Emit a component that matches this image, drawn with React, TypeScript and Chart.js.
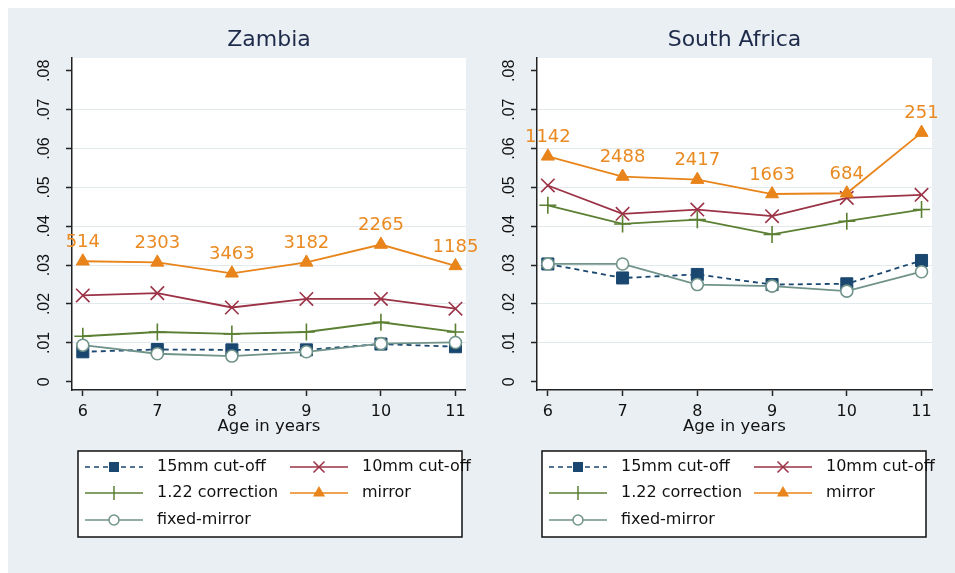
import React, { useEffect, useRef } from "react";
import { Chart, registerables } from "chart.js";

Chart.register(...registerables);

// ---------- data ----------
const ages = [6, 7, 8, 9, 10, 11];
const xTicks = [6, 7, 8, 9, 10, 11];
const yTicks = [0, 0.01, 0.02, 0.03, 0.04, 0.05, 0.06, 0.07, 0.08];
const yTickLabels = ["0", ".01", ".02", ".03", ".04", ".05", ".06", ".07", ".08"];
const seriesNames = ["15mm cut-off", "10mm cut-off", "1.22 correction", "mirror", "fixed-mirror"];
const xTitle = "Age in years";

const zambia15mm = [0.0077, 0.0083, 0.0082, 0.0082, 0.0097, 0.009];
const zambia10mm = [0.0222, 0.0228, 0.0191, 0.0213, 0.0213, 0.0188];
const zambia122 = [0.0117, 0.0128, 0.0123, 0.0128, 0.0153, 0.0128];
const zambiaMirror = [0.031, 0.0307, 0.0279, 0.0307, 0.0353, 0.0298];
const zambiaFixed = [0.0094, 0.0072, 0.0066, 0.0077, 0.0098, 0.0101];
const zambiaN = ["514", "2303", "3463", "3182", "2265", "1185"];

const sa15mm = [0.0303, 0.0267, 0.0276, 0.025, 0.0252, 0.0312];
const sa10mm = [0.0505, 0.0432, 0.0443, 0.0426, 0.0473, 0.0481];
const sa122 = [0.0454, 0.0406, 0.0417, 0.0379, 0.0413, 0.0443];
const saMirror = [0.058, 0.0528, 0.052, 0.0483, 0.0485, 0.0641];
const saFixed = [0.0303, 0.0303, 0.025, 0.0246, 0.0233, 0.0283];
const saN = ["1142", "2488", "2417", "1663", "684", "251"];

// ---------- styles ----------
type Kind = "square" | "x" | "plus" | "triangle" | "circle";
const STYLES: { color: string; kind: Kind; dash: number[] }[] = [
  { color: "#1a476f", kind: "square", dash: [5, 4] },
  { color: "#9b3246", kind: "x", dash: [] },
  { color: "#5b7f33", kind: "plus", dash: [] },
  { color: "#e8841a", kind: "triangle", dash: [] },
  { color: "#70938a", kind: "circle", dash: [] },
];
const ORANGE = "#ea8a22";
const BG = "#eaeff3";
const CANVAS_H = 565;
const LINE_W = 1.8;

function pointOpts(i: number) {
  const c = STYLES[i].color;
  switch (STYLES[i].kind) {
    case "square":
      return { pointStyle: "rect", pointRadius: 8.5, pointBackgroundColor: c, pointBorderColor: c, pointBorderWidth: 1 };
    case "x":
      return { pointStyle: "crossRot", pointRadius: 9.5, pointBackgroundColor: c, pointBorderColor: c, pointBorderWidth: 1.6 };
    case "plus":
      return { pointStyle: "cross", pointRadius: 8.5, pointBackgroundColor: c, pointBorderColor: c, pointBorderWidth: 1.6 };
    case "triangle":
      return { pointStyle: "triangle", pointRadius: 7.5, pointBackgroundColor: c, pointBorderColor: c, pointBorderWidth: 1 };
    default:
      return { pointStyle: "circle", pointRadius: 6, pointBackgroundColor: "#ffffff", pointBorderColor: c, pointBorderWidth: 1.6 };
  }
}

function drawMarker(ctx: CanvasRenderingContext2D, kind: Kind, x: number, y: number, color: string) {
  ctx.save();
  ctx.setLineDash([]);
  ctx.strokeStyle = color;
  ctx.fillStyle = color;
  ctx.lineWidth = 1.5;
  ctx.beginPath();
  if (kind === "square") {
    ctx.fillRect(x - 5, y - 5, 10, 10);
  } else if (kind === "x") {
    const s = 5.5;
    ctx.moveTo(x - s, y - s);
    ctx.lineTo(x + s, y + s);
    ctx.moveTo(x + s, y - s);
    ctx.lineTo(x - s, y + s);
    ctx.stroke();
  } else if (kind === "plus") {
    const s = 7;
    ctx.moveTo(x, y - s);
    ctx.lineTo(x, y + s);
    ctx.stroke();
  } else if (kind === "triangle") {
    const r = 7;
    ctx.moveTo(x, y - r);
    ctx.lineTo(x + r * 0.866, y + r * 0.5);
    ctx.lineTo(x - r * 0.866, y + r * 0.5);
    ctx.closePath();
    ctx.fill();
  } else {
    ctx.arc(x, y, 5, 0, Math.PI * 2);
    ctx.fillStyle = "#ffffff";
    ctx.fill();
    ctx.stroke();
  }
  ctx.restore();
}

type PanelProps = {
  title: string;
  series: number[][];
  counts: string[];
  width: number;
  yWidth: number;
  padRight: number;
  legendX: number;
};

function Panel({ title, series, counts, width, yWidth, padRight, legendX }: PanelProps) {
  const ref = useRef<HTMLCanvasElement>(null);
  useEffect(() => {
    const canvas = ref.current;
    if (!canvas) return;
    const datasets = series.map((vals, i) => ({
      label: seriesNames[i],
      data: ages.map((a, j) => ({ x: a, y: vals[j] })),
      borderColor: STYLES[i].color,
      borderWidth: LINE_W,
      borderDash: STYLES[i].dash,
      tension: 0,
      fill: false,
      order: 4 - i,
      ...pointOpts(i),
    }));

    const panelPlugin = {
      id: "panelDecor",
      beforeDraw(chart: any) {
        const { ctx, chartArea: a } = chart;
        ctx.save();
        ctx.fillStyle = "#ffffff";
        ctx.fillRect(a.left, a.top, a.right - a.left, a.bottom - a.top);
        ctx.restore();
      },
      afterDraw(chart: any) {
        const { ctx, chartArea: a } = chart;
        const ys = chart.scales.y;
        const cx = (a.left + a.right) / 2;
        ctx.save();
        ctx.textAlign = "center";
        ctx.textBaseline = "middle";
        // title
        ctx.fillStyle = "#1e2b4a";
        ctx.font = '22px "DejaVu Sans"';
        ctx.fillText(title, cx, 32);
        // y tick labels (rotated)
        ctx.fillStyle = "#111111";
        ctx.font = '16px "Liberation Sans"';
        yTicks.forEach((v, i) => {
          const py = ys.getPixelForValue(v);
          ctx.save();
          ctx.translate(a.left - 27, py);
          ctx.rotate(-Math.PI / 2);
          ctx.fillText(yTickLabels[i], 0, 0);
          ctx.restore();
        });
        // x title
        ctx.font = '16.5px "DejaVu Sans"';
        ctx.fillText(xTitle, cx, 419);
        // mirror counts
        const meta = chart.getDatasetMeta(3);
        ctx.fillStyle = ORANGE;
        ctx.font = '18px "DejaVu Sans"';
        meta.data.forEach((pt: any, j: number) => {
          ctx.fillText(counts[j], pt.x, pt.y - 19);
        });
        // legend
        const bx = legendX, by = 443, bw = 384, bh = 86;
        ctx.fillStyle = "#ffffff";
        ctx.fillRect(bx, by, bw, bh);
        ctx.strokeStyle = "#111111";
        ctx.lineWidth = 1.5;
        ctx.strokeRect(bx, by, bw, bh);
        const cols = [
          { s1: 7, s2: 65, t: 79 },
          { s1: 212, s2: 270, t: 284 },
        ];
        const rows = [16, 42, 69];
        ctx.font = '16px "DejaVu Sans"';
        ctx.textAlign = "left";
        seriesNames.forEach((name, i) => {
          const col = cols[i % 2];
          const ry = by + rows[Math.floor(i / 2)];
          const st = STYLES[i];
          ctx.save();
          ctx.strokeStyle = st.color;
          ctx.lineWidth = 1.5;
          ctx.setLineDash(st.dash);
          ctx.beginPath();
          ctx.moveTo(bx + col.s1, ry);
          ctx.lineTo(bx + col.s2, ry);
          ctx.stroke();
          ctx.restore();
          drawMarker(ctx, st.kind, bx + (col.s1 + col.s2) / 2, ry, st.color);
          ctx.fillStyle = "#111111";
          ctx.fillText(name, bx + col.t, ry);
        });
        ctx.restore();
      },
    };

    const chart = new Chart(canvas, {
      type: "line",
      data: { datasets: datasets as any },
      options: {
        animation: false,
        responsive: false,
        maintainAspectRatio: false,
        layout: { padding: { left: 0, right: padRight, top: 50, bottom: CANVAS_H - 382 - 45 } },
        plugins: { legend: { display: false }, tooltip: { enabled: false }, title: { display: false } },
        scales: {
          x: {
            type: "linear",
            min: 5.855,
            max: 11.14,
            afterBuildTicks: (s: any) => {
              s.ticks = xTicks.map((v) => ({ value: v }));
            },
            afterFit: (s: any) => {
              s.height = 45;
            },
            grid: { drawOnChartArea: false, drawTicks: true, tickLength: 6, tickColor: "#222222", tickWidth: 1.5 },
            border: { display: true, color: "#222222", width: 1.5 },
            ticks: {
              color: "#111111",
              font: { family: "DejaVu Sans", size: 16 },
              padding: 6,
              autoSkip: false,
              maxRotation: 0,
              minRotation: 0,
              callback: (v: any) => String(v),
            },
          },
          y: {
            type: "linear",
            min: -0.00213,
            max: 0.0833,
            afterBuildTicks: (s: any) => {
              s.ticks = yTicks.map((v) => ({ value: v }));
            },
            afterFit: (s: any) => {
              s.width = yWidth;
            },
            grid: {
              color: (c: any) => (c.index === 0 || c.index === yTicks.length - 1 ? "rgba(0,0,0,0)" : "#e2e9ec"),
              lineWidth: 1,
              drawTicks: true,
              tickLength: 6,
              tickColor: "#222222",
              tickWidth: 1.5,
            },
            border: { display: true, color: "#222222", width: 1.5 },
            ticks: { color: "rgba(0,0,0,0)", font: { family: "Liberation Sans", size: 16 } },
          },
        },
      },
      plugins: [panelPlugin],
    });
    return () => chart.destroy();
  }, []);
  return (
    <canvas
      ref={ref}
      width={width}
      height={CANVAS_H}
      style={{ display: "block", width: width + "px", height: CANVAS_H + "px" }}
    />
  );
}

export default function App() {
  return (
    <div
      style={{
        position: "fixed",
        left: 8,
        top: 8,
        width: 947,
        height: CANVAS_H,
        background: BG,
        display: "flex",
      }}
    >
      <Panel
        title="Zambia"
        series={[zambia15mm, zambia10mm, zambia122, zambiaMirror, zambiaFixed]}
        counts={zambiaN}
        width={469}
        yWidth={64}
        padRight={9}
        legendX={70}
      />
      <Panel
        title="South Africa"
        series={[sa15mm, sa10mm, sa122, saMirror, saFixed]}
        counts={saN}
        width={478}
        yWidth={60}
        padRight={23}
        legendX={65}
      />
    </div>
  );
}
